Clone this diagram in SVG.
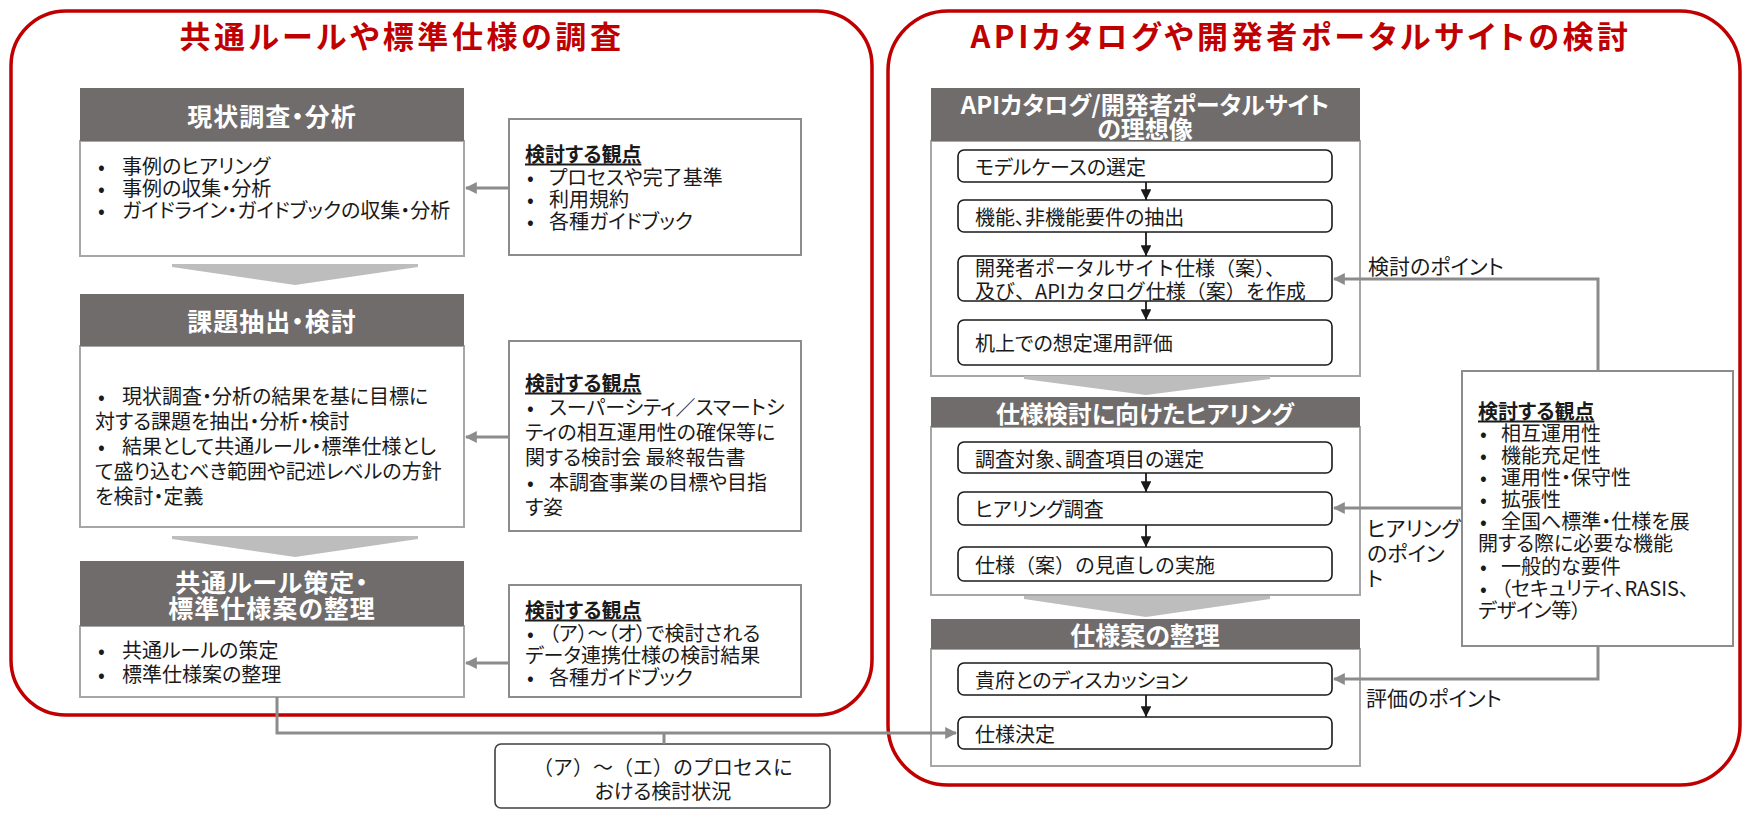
<svg xmlns="http://www.w3.org/2000/svg" width="1746" height="817" viewBox="0 0 1746 817">
<defs>
<style>
text{font-family:"Noto Sans CJK JP","Noto Sans",sans-serif;font-feature-settings:"palt";dominant-baseline:central;fill:#1a1a1a}
.np{font-feature-settings:normal}
.ttl{font-size:31px;font-weight:bold;fill:#c00000;letter-spacing:3.6px;text-anchor:middle}
.hd{font-size:24px;font-weight:bold;fill:#fff;text-anchor:middle}
.hl{font-size:25px;letter-spacing:1px}
.bd{font-size:20px}
.sb{font-size:20px}
.kh{font-size:20px;font-weight:bold;text-decoration:underline}
.lb{font-size:21px}
.panel{fill:none;stroke:#c00000;stroke-width:3.5}
.hdr{fill:#706c6c}
.body{fill:#fff;stroke:#a6a6a6;stroke-width:2}
.side{fill:#fff;stroke:#8c8c8c;stroke-width:2}
.step{fill:#fff;stroke:#1a1a1a;stroke-width:1.6}
.chev{fill:#bdbdbd}
.gc{fill:none;stroke:#8c8c8c;stroke-width:3;marker-end:url(#ga)}
.gl{fill:none;stroke:#8c8c8c;stroke-width:3}
.bc{fill:none;stroke:#1a1a1a;stroke-width:1.8;marker-end:url(#ba)}
</style>
<marker id="ga" viewBox="0 0 10 10" refX="9" refY="5" markerWidth="4" markerHeight="4" orient="auto" markerUnits="strokeWidth">
<path d="M0,0 L10,5 L0,10 Z" fill="#8c8c8c"/>
</marker>
<marker id="ba" viewBox="0 0 10 10" refX="10" refY="5" markerWidth="6" markerHeight="6" orient="auto" markerUnits="strokeWidth">
<path d="M0,0 L10,5 L0,10 Z" fill="#1a1a1a"/>
</marker>
</defs>
<rect width="1746" height="817" fill="#fff"/>

<g id="panel-left">
<rect class="panel" x="11" y="11" width="861" height="704" rx="55"/>
<text class="ttl" x="402" y="34">共通ルールや標準仕様の調査</text>
</g>
<g id="panel-right">
<rect class="panel" x="888" y="11" width="852" height="774" rx="60"/>
<text class="ttl" x="1301" y="34">APIカタログや開発者ポータルサイトの検討</text>
</g>

<g id="l-box1">
<rect class="body" x="80" y="141" width="384" height="115"/>
<rect class="hdr" x="80" y="88" width="384" height="53"/>
<text class="hd hl" x="272" y="115">現状調査・分析</text>
<text class="bd"><tspan x="98" y="165">•</tspan><tspan x="122" y="165">事例のヒアリング</tspan></text>
<text class="bd"><tspan x="98" y="187">•</tspan><tspan x="122" y="187">事例の収集・分析</tspan></text>
<text class="bd"><tspan x="98" y="209">•</tspan><tspan x="122" y="209">ガイドライン・ガイドブックの収集・分析</tspan></text>
</g>
<g id="l-side1">
<rect class="side" x="509" y="119" width="292" height="136"/>
<text class="kh" x="525" y="153">検討する観点</text>
<text class="sb"><tspan x="527" y="176">•</tspan><tspan x="549" y="176">プロセスや完了基準</tspan></text>
<text class="sb"><tspan x="527" y="198">•</tspan><tspan x="549" y="198">利用規約</tspan></text>
<text class="sb"><tspan x="527" y="220">•</tspan><tspan x="549" y="220">各種ガイドブック</tspan></text>
</g>
<polygon id="chev-l1" class="chev" points="172,264 418,264 418,267 295,285 172,267"/>

<g id="l-box2">
<rect class="body" x="80" y="346" width="384" height="181"/>
<rect class="hdr" x="80" y="294" width="384" height="52"/>
<text class="hd hl" x="272" y="320">課題抽出・検討</text>
<text class="bd"><tspan x="98" y="395">•</tspan><tspan x="122" y="395">現状調査・分析の結果を基に目標に</tspan></text>
<text class="bd" x="95" y="420">対する課題を抽出・分析・検討</text>
<text class="bd"><tspan x="98" y="445">•</tspan><tspan x="122" y="445">結果として共通ルール・標準仕様とし</tspan></text>
<text class="bd" x="95" y="470">て盛り込むべき範囲や記述レベルの方針</text>
<text class="bd" x="95" y="495">を検討・定義</text>
</g>
<g id="l-side2">
<rect class="side" x="509" y="341" width="292" height="190"/>
<text class="kh" x="525" y="382">検討する観点</text>
<text class="sb"><tspan x="527" y="406">•</tspan><tspan x="549" y="406">スーパーシティ／スマートシ</tspan></text>
<text class="sb" x="525" y="431">ティの相互運用性の確保等に</text>
<text class="sb" x="525" y="456">関する検討会 最終報告書</text>
<text class="sb"><tspan x="527" y="481">•</tspan><tspan x="549" y="481">本調査事業の目標や目指</tspan></text>
<text class="sb" x="525" y="506">す姿</text>
</g>
<polygon id="chev-l2" class="chev" points="172,536 418,536 418,539 295,557 172,539"/>

<g id="l-box3">
<rect class="body" x="80" y="626" width="384" height="71"/>
<rect class="hdr" x="80" y="561" width="384" height="65"/>
<text class="hd hl" x="272" y="581">共通ルール策定・</text>
<text class="hd hl" x="272" y="607">標準仕様案の整理</text>
<text class="bd"><tspan x="98" y="649">•</tspan><tspan x="122" y="649">共通ルールの策定</tspan></text>
<text class="bd"><tspan x="98" y="673">•</tspan><tspan x="122" y="673">標準仕様案の整理</tspan></text>
</g>
<g id="l-side3">
<rect class="side" x="509" y="585" width="292" height="112"/>
<text class="kh" x="525" y="609">検討する観点</text>
<text class="sb"><tspan x="527" y="632">•</tspan><tspan x="549" y="632">（ア）～（オ）で検討される</tspan></text>
<text class="sb" x="525" y="654">データ連携仕様の検討結果</text>
<text class="sb"><tspan x="527" y="676">•</tspan><tspan x="549" y="676">各種ガイドブック</tspan></text>
</g>

<g id="status-box">
<rect x="495" y="744" width="335" height="64" rx="6" fill="#fff" stroke="#404040" stroke-width="1.6"/>
<text class="bd np" x="663" y="766" text-anchor="middle">（ア）～（エ）のプロセスに</text>
<text class="bd" x="663" y="790" text-anchor="middle">おける検討状況</text>
</g>

<g id="r-boxA">
<rect class="body" x="931" y="141" width="429" height="235"/>
<rect class="hdr" x="931" y="88" width="429" height="53"/>
<text class="hd" x="1145" y="103">APIカタログ/開発者ポータルサイト</text>
<text class="hd" x="1145" y="127">の理想像</text>
</g>
<g id="r-a1"><rect class="step" x="958" y="150" width="374" height="32" rx="6"/><text class="bd" x="975" y="166">モデルケースの選定</text></g>
<g id="r-a2"><rect class="step" x="958" y="200" width="374" height="32" rx="6"/><text class="bd" x="975" y="216">機能、非機能要件の抽出</text></g>
<g id="r-a3"><rect class="step" x="958" y="256" width="374" height="45" rx="6"/><text class="bd np" x="975" y="267">開発者ポータルサイト仕様（案）、</text><text class="bd np" x="975" y="290">及び、APIカタログ仕様（案）を作成</text></g>
<g id="r-a4"><rect class="step" x="958" y="320" width="374" height="45" rx="6"/><text class="bd" x="975" y="342">机上での想定運用評価</text></g>
<polygon id="chev-r1" class="chev" points="1024,376 1270,376 1270,379 1146,395 1024,379"/>

<g id="r-boxB">
<rect class="body" x="931" y="427" width="429" height="168"/>
<rect class="hdr" x="931" y="397" width="429" height="30"/>
<text class="hd" x="1145" y="412">仕様検討に向けたヒアリング</text>
</g>
<g id="r-b1"><rect class="step" x="958" y="442" width="374" height="31" rx="6"/><text class="bd" x="975" y="458">調査対象、調査項目の選定</text></g>
<g id="r-b2"><rect class="step" x="958" y="492" width="374" height="33" rx="6"/><text class="bd" x="975" y="508">ヒアリング調査</text></g>
<g id="r-b3"><rect class="step" x="958" y="547" width="374" height="34" rx="6"/><text class="bd np" x="975" y="564">仕様（案）の見直しの実施</text></g>
<polygon id="chev-r2" class="chev" points="1024,596 1270,596 1270,599 1146,617 1024,599"/>

<g id="r-boxC">
<rect class="body" x="931" y="649" width="429" height="117"/>
<rect class="hdr" x="931" y="619" width="429" height="30"/>
<text class="hd" x="1145" y="634" style="font-size:25px">仕様案の整理</text>
</g>
<g id="r-c1"><rect class="step" x="958" y="663" width="374" height="32" rx="6"/><text class="bd" x="975" y="679">貴府とのディスカッション</text></g>
<g id="r-c2"><rect class="step" x="958" y="717" width="374" height="32" rx="6"/><text class="bd" x="975" y="733">仕様決定</text></g>

<g id="r-side">
<rect class="side" x="1462" y="371" width="271" height="275"/>
<text class="kh" x="1478" y="410">検討する観点</text>
<text class="sb"><tspan x="1480" y="432">•</tspan><tspan x="1501" y="432">相互運用性</tspan></text>
<text class="sb"><tspan x="1480" y="454">•</tspan><tspan x="1501" y="454">機能充足性</tspan></text>
<text class="sb"><tspan x="1480" y="476">•</tspan><tspan x="1501" y="476">運用性・保守性</tspan></text>
<text class="sb"><tspan x="1480" y="498">•</tspan><tspan x="1501" y="498">拡張性</tspan></text>
<text class="sb"><tspan x="1480" y="520">•</tspan><tspan x="1501" y="520">全国へ標準・仕様を展</tspan></text>
<text class="sb" x="1478" y="542">開する際に必要な機能</text>
<text class="sb"><tspan x="1480" y="565">•</tspan><tspan x="1501" y="565">一般的な要件</tspan></text>
<text class="sb"><tspan x="1480" y="587">•</tspan><tspan x="1501" y="587">（セキュリティ、RASIS、</tspan></text>
<text class="sb" x="1478" y="609">デザイン等）</text>
</g>

<g id="labels">
<text class="lb" x="1368" y="265">検討のポイント</text>
<text class="lb" x="1367" y="527">ヒアリング</text>
<text class="lb" x="1367" y="552">のポイン</text>
<text class="lb" x="1367" y="577">ト</text>
<text class="lb" x="1366" y="697">評価のポイント</text>
</g>

<g id="connectors">
<path class="gc" d="M509,188 H466"/>
<path class="gc" d="M509,437 H466"/>
<path class="gc" d="M509,663 H466"/>
<path class="gc" d="M277,697 V733 H956"/>
<path class="gl" d="M664,733 V744"/>
<path class="gc" d="M1598,371 V279 H1334"/>
<path class="gc" d="M1462,508 H1334"/>
<path class="gc" d="M1598,646 V679 H1334"/>
<path class="bc" d="M1146,182 V200"/>
<path class="bc" d="M1146,232 V256"/>
<path class="bc" d="M1146,301 V320"/>
<path class="bc" d="M1146,473 V492"/>
<path class="bc" d="M1146,525 V547"/>
<path class="bc" d="M1146,695 V717"/>
</g>
</svg>
